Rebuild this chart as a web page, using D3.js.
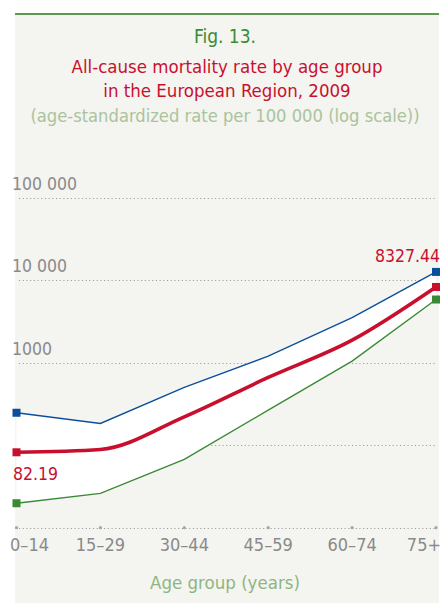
<!DOCTYPE html>
<html>
<head>
<meta charset="utf-8">
<script src="https://cdn.jsdelivr.net/npm/d3@7"></script>
<style>
  html, body { margin: 0; padding: 0; background: #fff; }
  svg { display: block; }
  text { font-family: 'DejaVu Sans Condensed', 'DejaVu Sans', sans-serif; }
</style>
</head>
<body>
<svg id="chart" width="441" height="603"></svg>
<script>
// data
const ageGroups = ['0–14', '15–29', '30–44', '45–59', '60–74', '75+'];
const upperRate = [248, 184, 503, 1206, 3548, 12680];
const meanRate = [82.19, 89, 221, 665, 1884, 8327.44];
const lowerRate = [19.8, 26.1, 67.4, 267, 1048, 5866];
const gridValues = [100, 1000, 10000, 100000];
const gridLabels = ['', '1000', '10 000', '100 000'];
const titleLines = ['All-cause mortality rate by age group', 'in the European Region, 2009'];

const W = 441, H = 603;
const svg = d3.select('#chart');

svg.append('rect')
  .attr('x', 15).attr('y', 14)
  .attr('width', 424).attr('height', H - 14)
  .attr('fill', '#f4f4f0');

svg.append('line')
  .attr('x1', 15).attr('x2', 439)
  .attr('y1', 14).attr('y2', 14)
  .attr('stroke', '#5b9a4d').attr('stroke-width', 2);

// titles
svg.append('text')
  .attr('x', 225).attr('y', 43)
  .attr('text-anchor', 'middle')
  .attr('font-size', 19)
  .attr('fill', '#3b8a36')
  .text('Fig. 13.');

svg.selectAll('.title')
  .data(titleLines)
  .join('text')
  .attr('class', 'title')
  .attr('x', 227)
  .attr('y', (d, i) => 72.5 + i * 24.5)
  .attr('text-anchor', 'middle')
  .attr('font-size', 18.5)
  .attr('fill', '#c8102e')
  .text(d => d);

svg.append('text')
  .attr('x', 225).attr('y', 121.5)
  .attr('text-anchor', 'middle')
  .attr('font-size', 18.2)
  .attr('fill', '#aac39d')
  .text('(age-standardized rate per 100 000 (log scale))');

const x = d3.scalePoint().domain(ageGroups).range([16.5, 436]);
const y = d3.scaleLog().domain([10, 100000]).range([527.7, 198]);

// grid
const grid = svg.append('g');
grid.selectAll('line')
  .data([10].concat(gridValues))
  .join('line')
  .attr('x1', 19).attr('x2', 437)
  .attr('y1', d => Math.round(y(d)) + 0.5)
  .attr('y2', d => Math.round(y(d)) + 0.5)
  .attr('stroke', '#9a9a9a')
  .attr('stroke-width', 1.1)
  .attr('stroke-dasharray', '1.1,2.6');

grid.selectAll('text')
  .data(gridValues)
  .join('text')
  .attr('x', 12)
  .attr('y', d => y(d) - 8)
  .attr('font-size', 17.5)
  .attr('fill', '#8a8a8a')
  .text((d, i) => gridLabels[i]);

// x axis dots + labels
svg.append('g').selectAll('circle')
  .data(ageGroups)
  .join('circle')
  .attr('cx', d => x(d)).attr('cy', y(10))
  .attr('r', 1.6)
  .attr('fill', '#a5a5a5');

const last = ageGroups.length - 1;
svg.append('g').selectAll('text')
  .data(ageGroups)
  .join('text')
  .attr('x', (d, i) => i === 0 ? 10 : (i === last ? 441 : x(d)))
  .attr('y', 551)
  .attr('text-anchor', (d, i) => i === 0 ? 'start' : (i === last ? 'end' : 'middle'))
  .attr('font-size', 18)
  .attr('fill', '#8a8a8a')
  .text(d => d);

svg.append('text')
  .attr('x', 225).attr('y', 589)
  .attr('text-anchor', 'middle')
  .attr('font-size', 18.5)
  .attr('fill', '#8fb67f')
  .text('Age group (years)');

// band between upper and lower
const band = ageGroups.map((g, i) => ({ g, lo: lowerRate[i], hi: upperRate[i] }));
svg.append('path')
  .datum(band)
  .attr('fill', '#ffffff')
  .attr('d', d3.area()
    .x(d => x(d.g))
    .y0(d => y(d.lo))
    .y1(d => y(d.hi)));

const series = [
  { values: upperRate, color: '#0b4f9c', width: 1.4, curve: d3.curveLinear },
  { values: lowerRate, color: '#3a8a35', width: 1.4, curve: d3.curveLinear },
  { values: meanRate, color: '#c8102e', width: 3.6, curve: d3.curveMonotoneX }
];

series.forEach(s => {
  const pts = ageGroups.map((g, i) => [x(g), y(s.values[i])]);
  svg.append('path')
    .datum(pts)
    .attr('fill', 'none')
    .attr('stroke', s.color)
    .attr('stroke-width', s.width)
    .attr('d', d3.line().curve(s.curve));

  svg.append('g').selectAll('rect')
    .data([pts[0], pts[pts.length - 1]])
    .join('rect')
    .attr('x', d => d[0] - 4).attr('y', d => d[1] - 4)
    .attr('width', 8).attr('height', 8)
    .attr('fill', s.color);
});

// value labels
svg.append('text')
  .attr('x', 13).attr('y', 480)
  .attr('font-size', 17.5)
  .attr('fill', '#c8102e')
  .text(d3.format('.2f')(meanRate[0]));

svg.append('text')
  .attr('x', 440).attr('y', 261.5)
  .attr('text-anchor', 'end')
  .attr('font-size', 17.5)
  .attr('fill', '#c8102e')
  .text(d3.format('.2f')(meanRate[meanRate.length - 1]));
</script>
</body>
</html>
